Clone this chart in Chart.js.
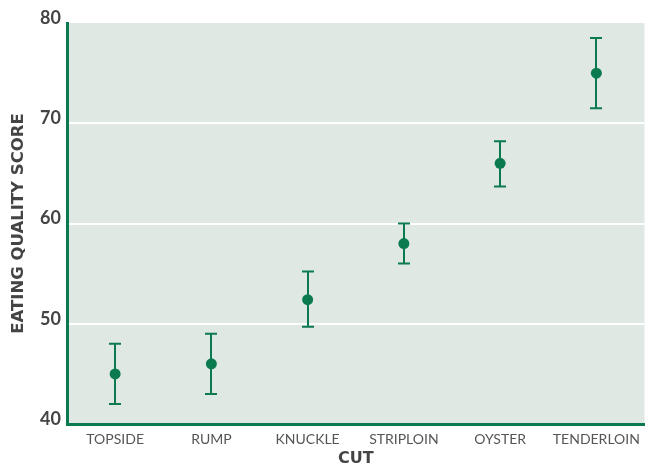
<!DOCTYPE html>
<html>
<head>
<meta charset="utf-8">
<script src="https://cdn.jsdelivr.net/npm/chart.js@4"></script>
<style>
  html, body { margin: 0; padding: 0; background: #fff; }
  #wrap { width: 650px; height: 470px; }
</style>
</head>
<body>
<div id="wrap"><canvas id="chart"></canvas></div>
<script>
var cuts = ["TOPSIDE", "RUMP", "KNUCKLE", "STRIPLOIN", "OYSTER", "TENDERLOIN"];
var meanScore = [45, 46, 52.4, 58, 66, 75];
var lowScore = [42, 43, 49.7, 56, 63.7, 71.5];
var highScore = [48, 49, 55.2, 60, 68.2, 78.5];
var yTicks = [40, 50, 60, 70, 80];

var green = "#0b7a4f";
var panel = "#dfe8e3";

var panelBg = {
    id: 'panelBg',
    beforeDraw: function(chart) {
        var a = chart.chartArea, ctx = chart.ctx;
        ctx.save();
        ctx.fillStyle = panel;
        ctx.fillRect(a.left, a.top, a.right - a.left, a.bottom - a.top);
        ctx.restore();
    }
};

var errorBars = {
    id: 'errorBars',
    beforeDatasetsDraw: function(chart) {
        var ctx = chart.ctx;
        var x = chart.scales.x, y = chart.scales.y;
        ctx.save();
        ctx.strokeStyle = green;
        ctx.lineWidth = 2;
        for (var i = 0; i < cuts.length; i++) {
            var px = Math.round(x.getPixelForValue(i));
            var lo = y.getPixelForValue(lowScore[i]);
            var hi = y.getPixelForValue(highScore[i]);
            ctx.beginPath();
            ctx.moveTo(px, lo); ctx.lineTo(px, hi);
            ctx.moveTo(px - 6, lo); ctx.lineTo(px + 6, lo);
            ctx.moveTo(px - 6, hi); ctx.lineTo(px + 6, hi);
            ctx.stroke();
        }
        ctx.restore();
    }
};

var config = {
    type: 'line',
    data: {
        labels: cuts,
        datasets: [{
            data: meanScore,
            showLine: false,
            pointRadius: 5.5,
            pointHoverRadius: 5.5,
            pointBackgroundColor: green,
            pointBorderColor: green,
            pointBorderWidth: 0
        }]
    },
    options: {
        responsive: false,
        animation: false,
        devicePixelRatio: 1,
        layout: { padding: { top: 23, right: 0, bottom: 0, left: 0 } },
        plugins: {
            legend: { display: false },
            tooltip: { enabled: false }
        },
        scales: {
            x: {
                offset: true,
                grid: { display: false, drawTicks: false },
                border: { color: green, width: 3 },
                ticks: {
                    padding: 7,
                    color: "#555",
                    font: { family: "Lato", size: 14 },
                    maxRotation: 0,
                    autoSkip: false
                },
                title: {
                    display: true,
                    text: "CUT",
                    color: "#444",
                    font: { family: "DejaVu Sans", size: 16, weight: "bold" },
                    padding: { top: 0, bottom: 2 }
                },
                afterFit: function(s) { s.height = 46; }
            },
            y: {
                min: 40,
                max: 80,
                afterBuildTicks: function(s) {
                    s.ticks = yTicks.map(function(v) { return { value: v }; });
                },
                grid: {
                    drawTicks: false,
                    lineWidth: 2,
                    color: function(c) {
                        return (c.tick && (c.tick.value === 80 || c.tick.value === 40)) ? "rgba(0,0,0,0)" : "#ffffff";
                    }
                },
                border: { color: green, width: 3 },
                ticks: {
                    padding: 6,
                    labelOffset: -5,
                    color: "#444",
                    font: { family: "Lato", size: 18, weight: "bold" }
                },
                title: {
                    display: true,
                    text: "EATING QUALITY SCORE",
                    color: "#444",
                    font: { family: "DejaVu Sans", size: 16.5, weight: "bold" },
                    padding: { top: 9, bottom: 0 }
                },
                afterFit: function(s) { s.width = 67; }
            }
        }
    },
    plugins: [panelBg, errorBars]
};

window.onload = function() {
    var canvas = document.getElementById("chart");
    canvas.width = 650;
    canvas.height = 470;
    new Chart(canvas.getContext("2d"), config);
};
</script>
</body>
</html>
